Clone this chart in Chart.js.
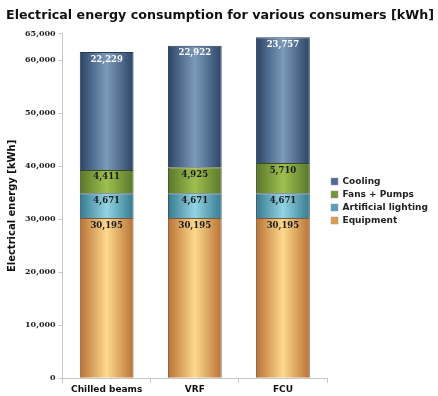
<!DOCTYPE html>
<html>
<head>
<meta charset="utf-8">
<script src="https://cdn.jsdelivr.net/npm/chart.js@4/dist/chart.umd.min.js"></script>
<style>
  html, body { margin: 0; padding: 0; background: #fff; }
  #wrap { width: 438px; height: 396px; }
</style>
</head>
<body>
<div id="wrap"><canvas id="chartEnergy" width="438" height="396"></canvas></div>
<script>
const systems = ['Chilled beams', 'VRF', 'FCU'];
const equipment = [30195, 30195, 30195];
const lighting = [4671, 4671, 4671];
const fansPumps = [4411, 4925, 5710];
const cooling = [22229, 22922, 23757];
const yTicks = [0, 10000, 20000, 30000, 40000, 50000, 60000, 65000];

const BAR_PCT = 0.61;
const fmtNum = v => v.toLocaleString('en-US');

// horizontal cylinder-ish shading: dark edges, light middle
const shade = (dark, light) => ctx => {
  const chart = ctx.chart;
  const xs = chart.scales.x;
  if (!xs || !chart.chartArea) return dark;
  const cx = xs.getPixelForValue(ctx.dataIndex);
  const w = xs.width / systems.length * BAR_PCT;
  const g = chart.ctx.createLinearGradient(cx - w / 2, 0, cx + w / 2, 0);
  g.addColorStop(0, dark);
  g.addColorStop(0.5, light);
  g.addColorStop(1, dark);
  return g;
};

const segLabels = {
  id: 'segLabels',
  afterDatasetsDraw(chart) {
    const c = chart.ctx;
    c.save();
    c.font = 'bold 8.5px "DejaVu Serif"';
    c.textAlign = 'center';
    c.textBaseline = 'top';
    chart.data.datasets.forEach((ds, i) => {
      chart.getDatasetMeta(i).data.forEach((bar, j) => {
        c.fillStyle = ds.label === 'Cooling' ? '#ffffff' : '#1a1a1a';
        c.fillText(fmtNum(ds.data[j]), bar.x, bar.y + 3);
      });
    });
    c.restore();
  }
};

const legendFill = {
  'Cooling': '#4f6d93',
  'Fans + Pumps': '#76963a',
  'Artificial lighting': '#55a3bb',
  'Equipment': '#e09a4e'
};

new Chart(document.getElementById('chartEnergy'), {
  type: 'bar',
  data: {
    labels: systems,
    datasets: [
      { label: 'Equipment', data: equipment, backgroundColor: shade('#b87236', '#fdd98c'), borderColor: '#7a5a3a' },
      { label: 'Artificial lighting', data: lighting, backgroundColor: shade('#367a90', '#92d4e4'), borderColor: '#2a4a55' },
      { label: 'Fans + Pumps', data: fansPumps, backgroundColor: shade('#58782a', '#9fbf50'), borderColor: '#3a4a20' },
      { label: 'Cooling', data: cooling, backgroundColor: shade('#2a4468', '#7c9aba'), borderColor: '#2a3a50' }
    ]
  },
  options: {
    responsive: false,
    animation: false,
    layout: { padding: { left: 6, right: 4, top: 6, bottom: 0 } },
    datasets: { bar: { borderWidth: 1, categoryPercentage: 1, barPercentage: BAR_PCT } },
    plugins: {
      title: {
        display: true,
        text: 'Electrical energy consumption for various consumers [kWh]',
        font: { family: 'DejaVu Sans', size: 13, weight: 'bold' },
        color: '#111',
        padding: { top: 2, bottom: 10 }
      },
      legend: {
        position: 'right',
        reverse: true,
        labels: {
          boxWidth: 7, boxHeight: 7, padding: 4,
          font: { family: 'DejaVu Sans', size: 9, weight: 'bold' },
          color: '#222',
          generateLabels: chart => Chart.defaults.plugins.legend.labels.generateLabels(chart)
            .map(l => Object.assign(l, { fillStyle: legendFill[l.text], strokeStyle: '#999', lineWidth: 0.5 }))
        }
      },
      tooltip: { enabled: false }
    },
    scales: {
      x: {
        stacked: true,
        border: { color: '#c8c8c8' },
        grid: { drawOnChartArea: false, drawTicks: true, tickLength: 5, color: '#c8c8c8', offset: true },
        ticks: { font: { family: 'DejaVu Sans', size: 9, weight: 'bold' }, color: '#111', padding: 1 }
      },
      y: {
        stacked: true,
        min: 0, max: 65000,
        afterBuildTicks: axis => { axis.ticks = yTicks.map(v => ({ value: v })); },
        border: { color: '#c8c8c8' },
        grid: { drawOnChartArea: false, drawTicks: true, tickLength: 4, color: '#c8c8c8' },
        ticks: { font: { family: 'DejaVu Serif', size: 8, weight: 'bold' }, color: '#222', padding: 3, callback: v => fmtNum(v) },
        title: {
          display: true,
          text: 'Electrical energy [kWh]',
          font: { family: 'DejaVu Sans', size: 10, weight: 'bold' },
          color: '#111',
          padding: { top: 0, bottom: 4 }
        }
      }
    }
  },
  plugins: [segLabels]
});
</script>
</body>
</html>
